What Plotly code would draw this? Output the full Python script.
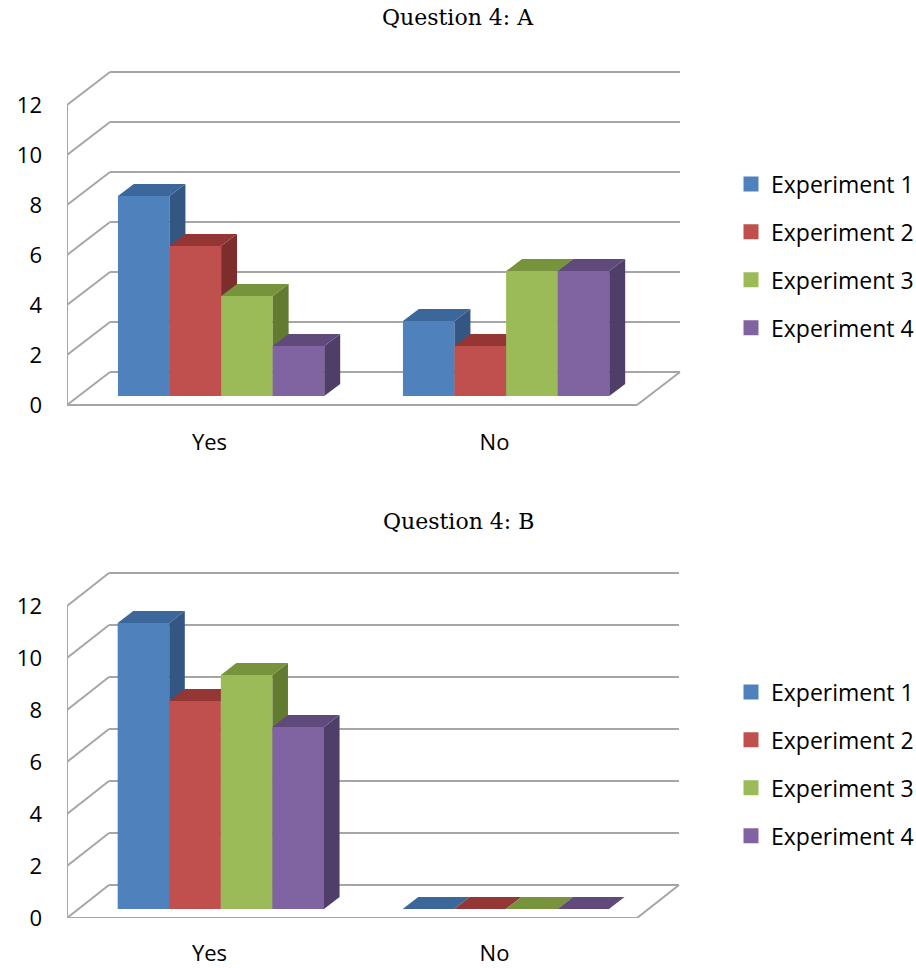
import plotly.graph_objects as go

# ---- data -------------------------------------------------------------
categories = ["Yes", "No"]
series_names = ["Experiment 1", "Experiment 2", "Experiment 3", "Experiment 4"]
y_ticks = [0, 2, 4, 6, 8, 10, 12]

# Question 4: A
exp1_a = [8, 3]
exp2_a = [6, 2]
exp3_a = [4, 5]
exp4_a = [2, 5]

# Question 4: B
exp1_b = [11, 0]
exp2_b = [8, 0]
exp3_b = [9, 0]
exp4_b = [7, 0]

# ---- styling ----------------------------------------------------------
front_colors = ["#4F81BD", "#C0504D", "#9BBB59", "#8064A2"]
top_colors = ["#3C679A", "#943634", "#77933C", "#604A7C"]
side_colors = ["#335683", "#7D2E2C", "#637B31", "#4F3F68"]
grid_color = "#A6A6A6"
tick_font = dict(family="Open Sans", size=22, color="#000000")
legend_font = dict(family="Open Sans", size=23, color="#000000")
title_font = dict(family="DejaVu Serif", size=22, color="#000000")

W, H = 916, 968
PX_PER_CAT = 285          # horizontal pixels per category slot
BAR_W = 0.181             # bar width in category units
F_FRONT, F_BACK = 0.27, 0.64  # bar front/back as fractions of floor depth


def fx(px):
    return px / W


def fy(px):
    return (H - px) / H


fig = go.Figure()


def build_panel(idx, values, title, zero_px, px_per_unit, top_px, bottom_px,
                depth_px, legend_name, legend_mid_px, title_px, x_standoff):
    xa = "x" if idx == 1 else f"x{idx}"
    ya = "y" if idx == 1 else f"y{idx}"
    xref_layout = "xaxis" if idx == 1 else f"xaxis{idx}"
    yref_layout = "yaxis" if idx == 1 else f"yaxis{idx}"

    dx = depth_px[0] / PX_PER_CAT          # wall depth in x units
    dy = depth_px[1] / px_per_unit         # wall depth in value units
    x0_px = 67
    x1_px = 705
    x_range = [0, (x1_px - x0_px) / PX_PER_CAT]
    y_range = [(zero_px - bottom_px) / px_per_unit, (zero_px - top_px) / px_per_unit]

    fig.update_layout({
        xref_layout: dict(domain=[fx(x0_px), fx(x1_px)], range=x_range,
                          tickvals=[i + 0.5 for i in range(len(categories))],
                          ticktext=categories, tickfont=tick_font,
                          showgrid=False, zeroline=False, showline=False,
                          ticks="", ticklabelstandoff=x_standoff, anchor=ya,
                          automargin=False, fixedrange=True),
        yref_layout: dict(domain=[fy(bottom_px), fy(top_px)], range=y_range,
                          tickvals=y_ticks, tickfont=tick_font,
                          showgrid=False, zeroline=False, showline=False,
                          ticks="", ticklabelstandoff=24, anchor=xa,
                          automargin=False, fixedrange=True),
    })

    line = dict(color=grid_color, width=2)
    n_cat = len(categories)
    y_max = y_ticks[-1]
    # back wall gridlines and left wall diagonals
    for v in y_ticks:
        fig.add_shape(type="line", xref=xa, yref=ya, x0=dx, y0=v + dy,
                      x1=n_cat + dx, y1=v + dy, line=line, layer="below")
        fig.add_shape(type="line", xref=xa, yref=ya, x0=0, y0=v,
                      x1=dx, y1=v + dy, line=line, layer="below")
    # front edge of side wall
    fig.add_shape(type="line", xref=xa, yref=ya, x0=0, y0=0, x1=0, y1=y_max,
                  line=line, layer="below")
    # floor front and right edges
    fig.add_shape(type="line", xref=xa, yref=ya, x0=0, y0=0, x1=n_cat, y1=0,
                  line=line, layer="below")
    fig.add_shape(type="line", xref=xa, yref=ya, x0=n_cat, y0=0,
                  x1=n_cat + dx, y1=dy, line=line, layer="below")

    group_w = BAR_W * len(values)
    base = F_FRONT * dy
    ddx = (F_BACK - F_FRONT) * dx
    ddy = (F_BACK - F_FRONT) * dy
    for s, vals in enumerate(values):
        name = series_names[s]
        centers = [c + 0.5 - group_w / 2 + (s + 0.5) * BAR_W + F_FRONT * dx
                   for c in range(n_cat)]
        grp = f"{legend_name}-{s}"
        fig.add_trace(go.Bar(
            x=centers, y=vals, base=[base] * n_cat, width=BAR_W, name=name,
            marker=dict(color=front_colors[s], line=dict(width=0)),
            xaxis=xa, yaxis=ya, showlegend=False, legendgroup=grp,
            zorder=s, hoverinfo="skip"))
        top_x, top_y, side_x, side_y = [], [], [], []
        for c, v in zip(centers, vals):
            xl, xr = c - BAR_W / 2, c + BAR_W / 2
            t = base + v
            top_x += [xl, xr, xr + ddx, xl + ddx, xl, None]
            top_y += [t, t, t + ddy, t + ddy, t, None]
            side_x += [xr, xr + ddx, xr + ddx, xr, xr, None]
            side_y += [base, base + ddy, t + ddy, t, base, None]
        fig.add_trace(go.Scatter(
            x=side_x, y=side_y, fill="toself", fillcolor=side_colors[s],
            mode="lines", line=dict(width=0, color=side_colors[s]),
            xaxis=xa, yaxis=ya, showlegend=False, legendgroup=grp,
            zorder=s, hoverinfo="skip"))
        fig.add_trace(go.Scatter(
            x=top_x, y=top_y, fill="toself", fillcolor=top_colors[s],
            mode="lines", line=dict(width=0, color=top_colors[s]),
            xaxis=xa, yaxis=ya, showlegend=False, legendgroup=grp,
            zorder=s, hoverinfo="skip"))
        # legend entry
        fig.add_trace(go.Scatter(
            x=[None], y=[None], mode="markers", name=name,
            marker=dict(symbol="square", size=15, color=front_colors[s]),
            xaxis=xa, yaxis=ya, legend=legend_name, legendgroup=grp,
            showlegend=True))

    fig.update_layout({
        legend_name: dict(x=fx(731), y=fy(legend_mid_px), xanchor="left",
                          yanchor="middle", font=legend_font,
                          tracegroupgap=15, bgcolor="rgba(0,0,0,0)",
                          itemclick=False, itemdoubleclick=False)
    })
    fig.add_annotation(text=title, x=fx(458), y=fy(title_px), xref="paper",
                       yref="paper", showarrow=False, font=title_font,
                       xanchor="center", yanchor="middle")


build_panel(1, [exp1_a, exp2_a, exp3_a, exp4_a], "Question 4: A",
            zero_px=405, px_per_unit=25, top_px=55, bottom_px=410,
            depth_px=(43, 33), legend_name="legend", legend_mid_px=256,
            title_px=18, x_standoff=17)
build_panel(2, [exp1_b, exp2_b, exp3_b, exp4_b], "Question 4: B",
            zero_px=918, px_per_unit=26, top_px=565, bottom_px=918,
            depth_px=(42, 33), legend_name="legend2", legend_mid_px=764,
            title_px=521, x_standoff=20)

fig.update_layout(
    width=W, height=H,
    margin=dict(l=0, r=0, t=0, b=0, autoexpand=False),
    paper_bgcolor="white", plot_bgcolor="rgba(0,0,0,0)",
    barmode="overlay", showlegend=True,
)

fig.write_html("out.html")
